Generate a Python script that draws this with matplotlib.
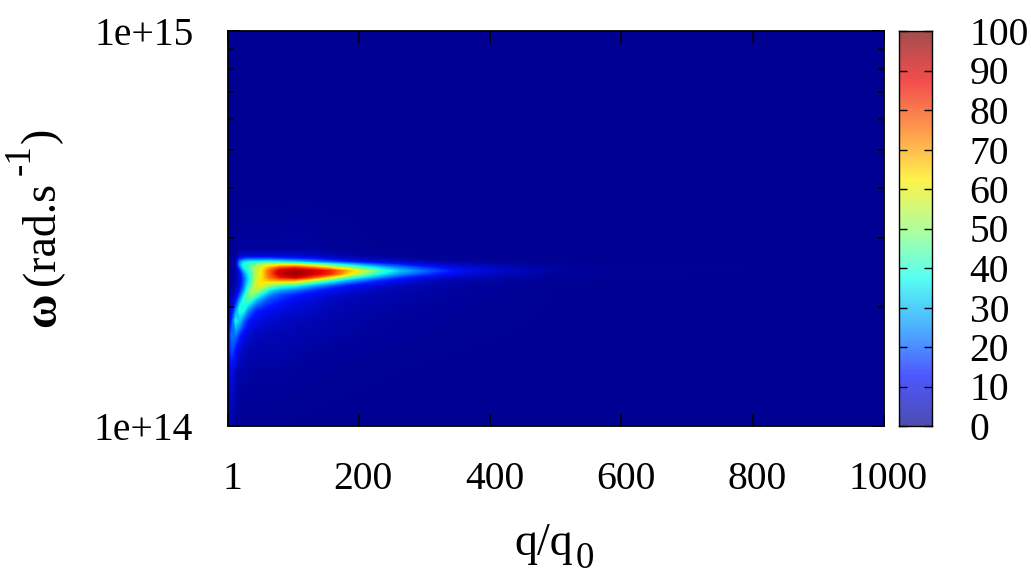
import numpy as np
import matplotlib
matplotlib.use("Agg")
import matplotlib.pyplot as plt
from matplotlib.colors import LinearSegmentedColormap
from matplotlib.ticker import FixedLocator, FixedFormatter, NullFormatter
from matplotlib.transforms import ScaledTranslation

plt.rcParams['font.family'] = ['Liberation Serif', 'DejaVu Serif']

q_values = [1, 7, 13, 19, 25, 31, 37, 43, 52, 64, 80, 103, 126, 156, 187, 225, 263, 309, 355, 416, 492, 600, 1000]
omega_values = [10.0, 3.73, 2.79, 2.69, 2.65, 2.60, 2.56, 2.51, 2.47, 2.43, 2.38, 2.34,
                2.27, 2.21, 2.15, 2.08, 1.97, 1.85, 1.70, 1.56, 1.39, 1.16, 1.0]
# one list per q value, from the highest omega to the lowest
col_q1 = [0, 0, 0, 0, 0, 0, 0, 0, 0, 0, 0, 0, 0, 0, 0.5, 1, 2, 5, 9, 11, 9, 6, 4]
col_q7 = [0, 0, 0, 0, 1, 1, 1, 1, 1, 1, 1, 1, 1, 2, 3, 5, 9, 15, 22, 18, 10, 5, 2]
col_q13 = [0, 0, 0, 1, 2, 3, 3, 2, 2, 2, 2, 3, 3, 5, 7, 11, 22, 36, 22, 11, 5, 2, 1]
col_q19 = [0, 0, 2, 6, 13, 24, 26, 16, 11, 9, 8, 8, 9, 12, 17, 26, 40, 30, 14, 8, 3, 1.5, 0.7]
col_q25 = [0, 0, 2, 7, 17, 33, 38, 34, 27, 22, 19, 18, 20, 24, 32, 41, 38, 20, 10, 5, 3, 1, 0.5]
col_q31 = [0, 0, 2, 8, 19, 36, 42, 40, 38, 34, 32, 31, 35, 41, 46, 44, 26, 14, 8, 4, 2.5, 1, 0.5]
col_q37 = [0, 0, 2, 8, 19, 37, 44, 46, 44, 42, 42, 42, 46, 50, 50, 38, 20, 11, 6, 4, 2, 1, 0.5]
col_q43 = [0, 0, 2, 8, 19, 38, 48, 53, 54, 54, 54, 55, 57, 55, 45, 30, 15, 10, 5, 3.5, 2, 1, 0.5]
col_q52 = [0, 0, 2, 8, 19, 38, 52, 60, 62, 62, 62, 64, 60, 48, 35, 23, 13, 8, 5, 3, 2, 1, 0.5]
col_q64 = [0, 0, 2, 8, 19, 39, 57, 70, 76, 76, 74, 68, 50, 35, 24, 17, 11, 7, 4, 3, 2, 1, 0.5]
col_q80 = [0, 0, 2, 8, 17, 37, 59, 80, 90, 92, 84, 70, 43, 27, 18, 14, 9, 6, 4, 3, 2, 1, 0.5]
col_q103 = [0, 0.3, 2, 7, 15, 33, 60, 84, 95, 97, 90, 70, 38, 22, 14, 10, 7, 5, 3.5, 2.5, 1.5, 0.8, 0.3]
col_q126 = [0, 0.3, 2, 6, 13, 27, 54, 78, 92, 92, 80, 58, 29, 16, 11, 8, 6, 4, 3, 2, 1.2, 0.6, 0.3]
col_q156 = [0, 0.2, 1, 4, 9, 21, 42, 66, 84, 83, 62, 42, 19, 11, 8, 5.5, 4, 3, 2.5, 1.5, 1, 0.5, 0.2]
col_q187 = [0, 0.2, 0.8, 2.5, 6, 14, 32, 52, 66, 62, 42, 27, 12, 8, 5, 4, 3, 2.5, 2, 1.2, 0.8, 0.4, 0.2]
col_q225 = [0, 0.1, 0.5, 1.5, 4, 9, 21, 36, 46, 40, 26, 16, 8, 5, 3.5, 3, 2.5, 2, 1.5, 1, 0.6, 0.3, 0.1]
col_q263 = [0, 0.1, 0.3, 1, 2.5, 6, 14, 24, 30, 25, 15, 10, 5, 3.5, 3, 2.5, 2, 1.5, 1.2, 0.8, 0.5, 0.2, 0.1]
col_q309 = [0, 0, 0.2, 0.5, 1, 3, 8, 15, 19, 15, 9, 5, 3, 2.5, 2, 1.8, 1.5, 1.2, 1, 0.6, 0.4, 0.2, 0.1]
col_q355 = [0, 0, 0.1, 0.3, 0.8, 2, 5, 9, 11, 9, 5, 3, 2, 1.8, 1.5, 1.2, 1, 0.8, 0.6, 0.5, 0.3, 0.1, 0]
col_q416 = [0, 0, 0.1, 0.2, 0.5, 1, 3, 5, 6, 5, 3, 2, 1.3, 1, 1, 0.8, 0.7, 0.6, 0.5, 0.3, 0.2, 0.1, 0]
col_q492 = [0, 0, 0, 0.1, 0.2, 0.5, 1, 1.8, 2, 1.6, 1, 0.8, 0.6, 0.5, 0.5, 0.5, 0.4, 0.4, 0.3, 0.2, 0.1, 0, 0]
col_q600 = [0, 0, 0, 0, 0.1, 0.2, 0.4, 0.7, 0.8, 0.6, 0.4, 0.3, 0.3, 0.3, 0.3, 0.2, 0.2, 0.2, 0.1, 0.1, 0, 0, 0]
col_q1000 = [0, 0, 0, 0, 0, 0, 0.1, 0.1, 0.2, 0.1, 0.1, 0, 0, 0, 0, 0, 0, 0, 0, 0, 0, 0, 0]

x_ticks = [1, 200, 400, 600, 800, 1000]
x_labels = ['1', '200', '400', '600', '800', '1000']
bar_ticks = [0, 10, 20, 30, 40, 50, 60, 70, 80, 90, 100]
palette = ["#000090", "#000fff", "#0090ff", "#0fffee", "#90ff70", "#ffee00", "#ff7000", "#ee0000", "#7f0000"]

intensity = np.array([col_q1, col_q7, col_q13, col_q19, col_q25, col_q31, col_q37, col_q43, col_q52,
                      col_q64, col_q80, col_q103, col_q126, col_q156, col_q187, col_q225, col_q263,
                      col_q309, col_q355, col_q416, col_q492, col_q600, col_q1000], dtype=float).T
omega = np.array(omega_values) * 1e14
cmap = LinearSegmentedColormap.from_list('gp_jet', palette, N=512)

W, H = 1031, 581
TICK_PT = 28.5
fig = plt.figure(figsize=(W / 100, H / 100), dpi=100)
ax = fig.add_axes([228 / W, 1 - 426 / H, 656 / W, 395 / H])
ax.set_facecolor("#000090")
ax.contourf(q_values, omega, intensity, levels=np.linspace(0, 100.5, 202), cmap=cmap, vmin=0, vmax=100)
ax.set_yscale('log')
ax.set_xlim(1, 1000)
ax.set_ylim(1e14, 1e15)
ax.xaxis.set_major_locator(FixedLocator(x_ticks))
ax.xaxis.set_major_formatter(FixedFormatter(x_labels))
ax.set_yticks([1e14, 1e15])
ax.set_yticklabels(['1e+14', '1e+15'])
ax.yaxis.set_minor_locator(FixedLocator([k * 1e14 for k in range(2, 10)]))
ax.yaxis.set_minor_formatter(NullFormatter())
ax.tick_params(axis='both', which='major', direction='in', length=8.4, width=1.1, top=True, right=True, labelsize=TICK_PT)
ax.tick_params(axis='y', which='minor', direction='in', length=4.5, width=1.1, right=True)
ax.tick_params(axis='x', pad=25)
ax.tick_params(axis='y', pad=25)
for s in ax.spines.values():
    s.set_linewidth(1.3)
ax.set_axisbelow(False)
for lab in ax.get_xticklabels():
    lab.set_transform(lab.get_transform() + ScaledTranslation(4.5 / 100, 0, fig.dpi_scale_trans))


def put(px, py, s, size, **kw):
    fig.text(px / W, 1 - py / H, s, fontsize=size, ha='left', va='baseline', rotation_mode='anchor', **kw)


put(514, 555, 'q/q', 33)
put(576, 568, '0', 26.6)
put(55, 327, 'ω', 34, rotation=90, fontweight='bold')
put(53, 285, '(rad.s', 33, rotation=90)
put(30, 175, '-1', 26.6, rotation=90)
put(53, 143, ')', 33, rotation=90)

cax = fig.add_axes([899 / W, 1 - 426 / H, 33 / W, 395 / H])
cax.imshow(np.linspace(0, 100, 256)[:, None], origin='lower', aspect='auto', cmap=cmap, vmin=0, vmax=100,
           extent=[0, 1, 0, 100], alpha=0.7, interpolation='nearest')
cax.set_xticks([])
cax.yaxis.tick_right()
cax.set_yticks(bar_ticks)
cax.set_yticklabels([str(v) for v in bar_ticks])
cax.tick_params(axis='y', direction='in', length=5.8, width=1.0, left=True, right=True, labelsize=TICK_PT, pad=27)
for s in cax.spines.values():
    s.set_linewidth(1.0)

fig.savefig('out.png', dpi=100)
